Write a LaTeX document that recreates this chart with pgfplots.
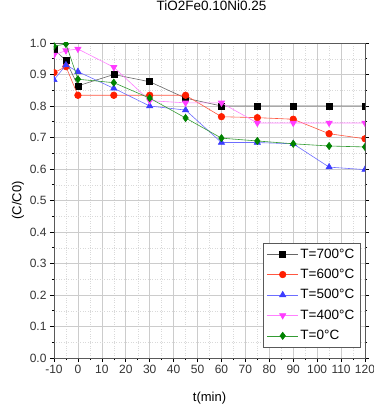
\documentclass[border=0pt]{standalone}
\usepackage{pgfplots}
\pgfplotsset{compat=1.18}
\usepackage{fontspec}
\setmainfont{Liberation Sans}
\definecolor{cRed}{RGB}{255,30,0}
\definecolor{cBlue}{RGB}{60,60,255}
\definecolor{cMag}{RGB}{255,60,255}
\definecolor{cGreen}{RGB}{0,130,0}
\begin{document}
\begin{tikzpicture}
\begin{axis}[
  name=ax,
  scale only axis, width=311pt, height=315pt,
  xmin=-10, xmax=120, ymin=0, ymax=1.0,
  xtick={-10,0,...,120}, ytick={0,0.1,...,1.0},
  minor x tick num=1, minor y tick num=1,
  clip marker paths=true,
  /pgf/number format/assume math mode=true,
  yticklabel style={/pgf/number format/fixed,/pgf/number format/fixed zerofill,/pgf/number format/precision=1},
  tick label style={font=\fontsize{12}{14}\selectfont, text=black!80},
  grid=both,
  major grid style={gray!40, line width=0.6pt},
  minor grid style={gray!30, dotted},
  axis line style={gray!70!black, line width=0.8pt},
  tick style={black, line width=0.6pt},
  tick align=outside,
  xtick pos=bottom, ytick pos=both,
  major tick length=4pt, minor tick length=2pt,
  title={TiO2Fe0.10Ni0.25},
  title style={font=\fontsize{13.5}{15}\selectfont, at={(axis description cs:0.5,1)}, anchor=center, yshift=31pt, xshift=2pt},
  xlabel={t(min)}, ylabel={(C/C0)},
  xlabel style={font=\fontsize{13}{15}\selectfont, at={(axis description cs:0.5,0)}, anchor=center, yshift=-40pt},
  ylabel style={font=\fontsize{13}{15}\selectfont, at={(axis description cs:0,0.5)}, anchor=center, yshift=36pt},
  legend style={font=\fontsize{13.5}{16}\selectfont, draw=gray!70!black, fill=white, at={(rel axis cs:1,0)}, xshift=-5pt, yshift=11pt, anchor=south east, row sep=5.5pt, inner sep=3.5pt},
  legend cell align=left,
  legend image code/.code={\draw[mark repeat=2,mark phase=2] plot coordinates {(0pt,0pt) (15.5pt,0pt) (31pt,0pt)};},
  every axis plot/.append style={line width=0.6pt},
]
\addplot[gray!80!black, mark=square*, mark options={black, fill=black, mark size=3pt}] coordinates {
(-10,0.98) (-5,0.944) (0,0.864) (15,0.90) (30,0.877) (45,0.825) (60,0.80) (75,0.80) (90,0.80) (105,0.80) (120,0.80)};
\addlegendentry{T=700°C}
\addplot[cRed!75, mark=*, mark options={cRed, fill=cRed, mark size=3.3pt}] coordinates {
(-10,0.906) (-5,0.925) (0,0.834) (15,0.834) (30,0.834) (45,0.834) (60,0.766) (75,0.763) (90,0.758) (105,0.712) (120,0.696)};
\addlegendentry{T=600°C}
\addplot[cBlue!75, mark=triangle*, mark options={cBlue, fill=cBlue, mark size=3.6pt}] coordinates {
(-10,0.883) (-5,0.930) (0,0.909) (15,0.856) (30,0.80) (45,0.787) (60,0.684) (75,0.684) (90,0.68) (105,0.606) (120,0.598)};
\addlegendentry{T=500°C}
\addplot[cMag!65, mark=triangle*, mark options={cMag, fill=cMag, rotate=180, mark size=3.6pt}] coordinates {
(-10,0.962) (-5,0.976) (0,0.981) (15,0.923) (30,0.817) (45,0.81) (60,0.81) (75,0.746) (90,0.746) (105,0.746) (120,0.746)};
\addlegendentry{T=400°C}
\addplot[cGreen!80, mark=diamond*, mark options={cGreen, fill=cGreen, mark size=3.6pt}] coordinates {
(-10,0.99) (-5,0.997) (0,0.885) (15,0.874) (30,0.825) (45,0.762) (60,0.698) (75,0.689) (90,0.68) (105,0.673) (120,0.67)};
\addlegendentry{T=0°C}
\end{axis}
\pgfresetboundingbox
\useasboundingbox ([xshift=-54pt,yshift=-52pt]ax.south west) rectangle ([xshift=9pt,yshift=43pt]ax.north east);
\end{tikzpicture}
\end{document}
